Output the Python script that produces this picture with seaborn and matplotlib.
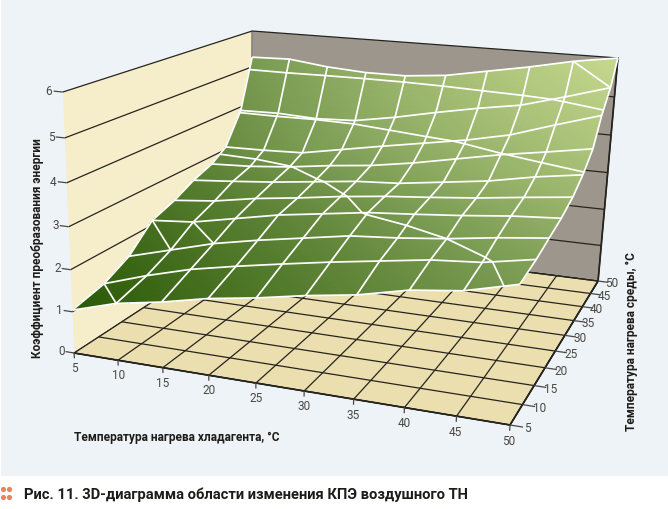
"""3D surface: heat pump COP against refrigerant and medium heating temperature."""
import numpy as np
import matplotlib
matplotlib.use("Agg")
import matplotlib.pyplot as plt
from matplotlib.patches import Rectangle
from mpl_toolkits.mplot3d.art3d import Line3DCollection
import seaborn as sns

# ─── Data ─────────────────────────────────────────────────────────────────────

TICKS_XY = [5, 10, 15, 20, 25, 30, 35, 40, 45, 50]
TICKS_Z = [0, 1, 2, 3, 4, 5, 6]

refrigerant_t = [5, 10, 15, 20, 25, 30, 35, 40, 45, 50]
medium_t = [5, 11.5, 17, 22.5, 28, 33, 38, 42, 46.5, 50]

cop_05 = [1.04, 1.36, 1.55, 1.79, 1.96, 2.17, 2.34, 2.60, 2.74, 3.03]
cop_11 = [1.22, 1.57, 1.87, 2.09, 2.29, 2.48, 2.65, 2.82, 2.91, 3.12]
cop_17 = [1.54, 1.84, 2.14, 2.36, 2.55, 2.74, 2.83, 2.95, 3.11, 3.24]
cop_22 = [2.12, 2.21, 2.43, 2.65, 2.81, 2.97, 3.06, 3.16, 3.28, 3.36]
cop_28 = [2.33, 2.44, 2.63, 2.77, 2.93, 3.06, 3.16, 3.27, 3.41, 3.54]
cop_33 = [2.60, 2.69, 2.79, 2.92, 3.05, 3.12, 3.27, 3.42, 3.64, 3.81]
cop_38 = [2.79, 2.84, 2.94, 3.09, 3.21, 3.39, 3.61, 3.83, 4.01, 4.20]
cop_42 = [3.07, 3.09, 3.13, 3.33, 3.53, 3.72, 3.91, 4.15, 4.51, 4.85]
cop_46 = [3.90, 3.92, 3.87, 3.92, 4.11, 4.34, 4.55, 4.73, 5.04, 5.37]
cop_50 = [5.27, 5.30, 5.17, 5.10, 5.10, 5.20, 5.40, 5.60, 5.83, 6.00]

BAND_LEVELS = [2.95, 3.85, 4.95]
# (row, col) pairs joined by the extra short mesh diagonals
DIAGONALS = [((1, 0), (0, 1)), ((3, 0), (2, 1)), ((3, 1), (2, 2)), ((9, 8), (8, 9))]

XLABEL = "Температура нагрева хладагента, °C"
YLABEL = "Температура нагрева среды, °C"
ZLABEL = "Коэффициент преобразования энергии"
CAPTION = "Рис. 11. 3D-диаграмма области изменения КПЭ воздушного ТН"

# ─── Camera: box corners and where they sit on the picture (px from top left) ─

W, H = 668, 510
CORNERS = [
    ((5, 5, 0), (74, 354)), ((50, 5, 0), (510, 426)), ((50, 50, 0), (598, 282)),
    ((5, 50, 0), (252, 238)), ((5, 5, 6), (63, 93)), ((5, 50, 6), (252, 32)),
    ((50, 50, 6), (618, 59)),
]


def fit_camera(ax):
    """Solve the 3x4 camera from CORNERS, return it as a matrix for ax.get_proj."""
    rows = []
    for (x, y, z), (px, py) in CORNERS:
        py = H - py
        rows.append([x, y, z, 1, 0, 0, 0, 0, -px*x, -px*y, -px*z, -px])
        rows.append([0, 0, 0, 0, x, y, z, 1, -py*x, -py*y, -py*z, -py])
    P = np.linalg.svd(np.array(rows, dtype=float))[2][-1].reshape(3, 4)
    P /= P[2] @ np.array([27.5, 27.5, 3, 1])   # w = 1 in the middle of the box

    ax.apply_aspect()
    P = ax.transData.inverted().get_matrix() @ P   # pixels -> axes 2D coords
    depth = P[2] - np.array([0, 0, 0, 0.5])        # larger = further away
    return np.vstack([P[0], P[1], depth, P[2]])


def refine(grid, n=8):
    """Resample a mesh n times finer, only so the shading can run smoothly."""
    rows_i = np.linspace(0, grid.shape[0] - 1, (grid.shape[0] - 1)*n + 1)
    cols_i = np.linspace(0, grid.shape[1] - 1, (grid.shape[1] - 1)*n + 1)
    along_cols = np.array([np.interp(cols_i, np.arange(grid.shape[1]), r) for r in grid])
    return np.array([np.interp(rows_i, np.arange(grid.shape[0]), c) for c in along_cols.T]).T


def add_segments(ax, segments, **kwargs):
    ax.add_collection3d(Line3DCollection(segments, **kwargs), autolim=False)


def text_at(ax, x, y, z, s, **kwargs):
    """Label a 3D point; the text itself stays a plain 2D artist of the axes."""
    px, py, _, w = M @ np.array([x, y, z, 1.0])
    ax.text2D(px/w, py/w, s, transform=ax.transData, **kwargs)


# ─── Figure ───────────────────────────────────────────────────────────────────

sns.set_theme(style="white")
plt.rcParams["font.family"] = ["Roboto", "Liberation Sans", "DejaVu Sans"]

fig = plt.figure(figsize=(W/100, H/100), dpi=100, facecolor="white")

bg = fig.add_axes([0, 0, 1, 1], zorder=0)
bg.set_xlim(0, W)
bg.set_ylim(H, 0)
bg.axis("off")
bg.add_patch(Rectangle((1, 0), W, 477, color="#EEF3F7", lw=0))
bg.scatter([3, 9, 3, 9], [490, 490, 498, 498], s=14, color="#E9825F", lw=0)

ax = fig.add_axes([0, -(W-H)/2/H, 1, W/H], projection="3d", computed_zorder=False, zorder=1)
ax.patch.set_alpha(0)
ax.set_xlim(5, 50)
ax.set_ylim(5, 50)
ax.set_zlim(0, 6)
M = fit_camera(ax)
ax.get_proj = lambda: M

# walls and floor
INK = "#26241F"
TICK_INK = "#4A4843"
ax.grid(False)
ax.set_xticks([])
ax.set_yticks([])
ax.set_zticks([])
ax.xaxis.set_pane_color("#F6EECB")
ax.yaxis.set_pane_color("#9C968C")
ax.zaxis.set_pane_color("#EBDFAF")
for axis in (ax.xaxis, ax.yaxis, ax.zaxis):
    axis.pane.set_edgecolor(INK)
    axis.pane.set_linewidth(0.9)
    axis.line.set_color(INK)

floor = [[(v, 5, 0), (v, 50, 0)] for v in TICKS_XY] + [[(5, v, 0), (50, v, 0)] for v in TICKS_XY]
walls = [[(5, 5, v), (5, 50, v), (50, 50, v)] for v in TICKS_Z[1:-1]]
add_segments(ax, floor + walls, colors=INK, linewidths=0.9, zorder=1)

# surface
X, Y = np.meshgrid(refrigerant_t, medium_t)
Z = np.array([cop_05, cop_11, cop_17, cop_22, cop_28, cop_33, cop_38, cop_42, cop_46, cop_50])

ramp = sns.blend_palette(["#2B5A06", "#7A9B52", "#C6D98F"], as_cmap=True)
col_idx, row_idx = np.meshgrid(np.arange(10, dtype=float), np.arange(10, dtype=float))
ax.plot_surface(refine(X), refine(Y), refine(Z), rstride=1, cstride=1,
                facecolors=ramp((refine(col_idx) + refine(row_idx))/18),
                linewidth=0, antialiased=False, shade=False, zorder=2)
ax.plot_wireframe(X, Y, Z, rstride=1, cstride=1, color="white", linewidth=1.25, zorder=3)
ax.contour(X, Y, Z, levels=BAND_LEVELS, colors="white", linewidths=1.25, zorder=3)
diag = [[(X[a], Y[a], Z[a]), (X[b], Y[b], Z[b])] for a, b in DIAGONALS]
add_segments(ax, diag, colors="white", linewidths=1.25, zorder=3)

# ticks
tick_marks = [[(v, 5, 0), (v, 5, -0.13)] for v in TICKS_XY]
tick_marks += [[(50, v, 0), (51.2, v, 0)] for v in TICKS_XY]
tick_marks += [[(5, 5, v), (4, 5, v)] for v in TICKS_Z]
add_segments(ax, tick_marks, colors=TICK_INK, linewidths=0.9, zorder=1)

tick_style = dict(fontsize=8.5, color=TICK_INK, ha="center", va="center")
for v in TICKS_XY:
    text_at(ax, v, 5, -0.35, str(v), **tick_style)
    text_at(ax, 51.6, v, 0, str(v), **tick_style)
for v in TICKS_Z:
    text_at(ax, 3.5, 5, v, str(v), **tick_style)

# labels
label_style = dict(fontsize=8.6, fontweight="bold", color="#1E1C18")
fig.text(74/W, 1 - 438/H, XLABEL, va="center", **label_style)
fig.text(38/W, 1 - 248/H, ZLABEL, rotation=90, ha="center", va="center", **label_style)
fig.text(632/W, 1 - 342/H, YLABEL, rotation=90, ha="center", va="center", **label_style)
fig.text(24/W, 1 - 495/H, CAPTION, fontsize=10.6, fontweight="bold", color="#1E1C18", va="center")

fig.savefig("out.png", dpi=100)
